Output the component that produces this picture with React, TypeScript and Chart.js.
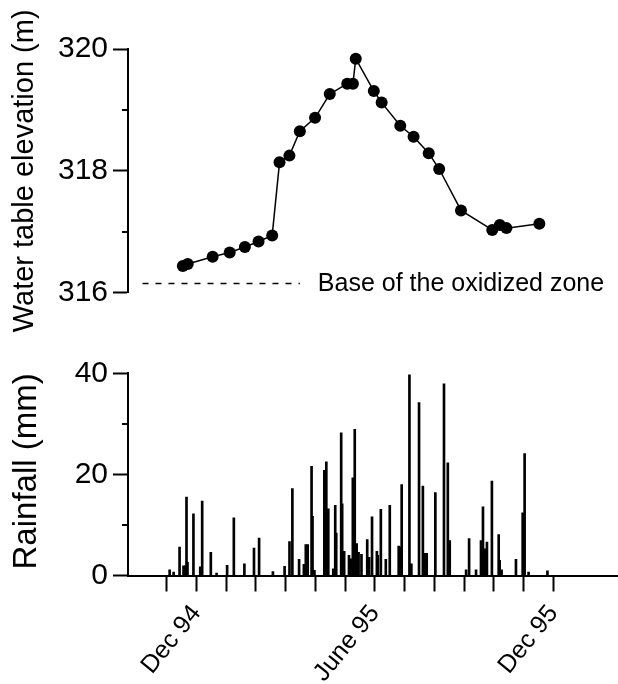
import React, { useEffect, useRef } from 'react';
import { Chart, registerables } from 'chart.js';

Chart.register(...registerables);

const FONT = "'Liberation Sans', Arial, Helvetica, sans-serif";

// ---- Water table elevation (m) ----
const WATER_DATES = [
  '1994-11-18', '1994-11-23', '1994-12-19', '1995-01-06', '1995-01-22', '1995-02-05',
  '1995-02-18', '1995-02-25', '1995-03-07', '1995-03-18', '1995-04-03', '1995-04-18',
  '1995-05-06', '1995-05-12', '1995-05-15', '1995-06-03', '1995-06-11', '1995-06-30',
  '1995-07-14', '1995-07-30', '1995-08-10', '1995-09-02', '1995-10-04', '1995-10-12',
  '1995-10-19', '1995-11-22',
];
const WATER_LEVELS = [
  316.44, 316.47, 316.59, 316.66, 316.75, 316.84,
  316.94, 318.14, 318.25, 318.65, 318.87, 319.26,
  319.43, 319.43, 319.84, 319.31, 319.12, 318.74,
  318.56, 318.29, 318.03, 317.35, 317.03, 317.11,
  317.06, 317.13,
];
const WATER_MAJOR_TICKS = [316, 318, 320];
const WATER_MINOR_TICKS = [317, 319];

// ---- Base of the oxidized zone ----
const BASE_LABEL = 'Base of the oxidized zone';
const BASE_ELEVATION = 316.15;
const BASE_SPAN = ['1994-10-07', '1995-03-18'];

// ---- Rainfall (mm) ----
const RAIN_DATES = [
  '1994-11-04', '1994-11-08', '1994-11-14', '1994-11-18', '1994-11-20', '1994-11-21',
  '1994-11-22', '1994-11-28', '1994-12-05', '1994-12-07', '1994-12-16', '1994-12-22',
  '1995-01-02', '1995-01-09', '1995-01-20', '1995-01-30', '1995-02-04', '1995-02-17',
  '1995-02-28', '1995-03-05', '1995-03-08', '1995-03-15', '1995-03-20', '1995-03-22',
  '1995-03-24', '1995-03-28', '1995-03-29', '1995-03-31', '1995-04-10', '1995-04-12',
  '1995-04-14', '1995-04-19', '1995-04-21', '1995-04-22', '1995-04-27', '1995-04-28',
  '1995-04-30', '1995-05-05', '1995-05-07', '1995-05-09', '1995-05-11', '1995-05-13',
  '1995-05-15', '1995-05-18', '1995-05-24', '1995-05-26', '1995-05-29', '1995-06-03',
  '1995-06-04', '1995-06-07', '1995-06-12', '1995-06-16', '1995-06-25', '1995-06-27',
  '1995-06-28', '1995-07-06', '1995-07-08', '1995-07-16', '1995-07-20', '1995-07-22',
  '1995-07-24', '1995-08-02', '1995-08-11', '1995-08-15', '1995-08-17', '1995-09-03',
  '1995-09-06', '1995-09-13', '1995-09-18', '1995-09-20', '1995-09-22', '1995-09-24',
  '1995-09-29', '1995-10-06', '1995-10-07', '1995-10-09', '1995-10-24', '1995-10-31',
  '1995-11-02', '1995-11-06', '1995-11-25',
];
const RAIN_MM = [
  1.1, 0.7, 5.6, 1.9, 1.9, 15.5,
  2.6, 12.2, 1.7, 14.7, 4.6, 0.5,
  2.0, 11.4, 2.3, 5.4, 7.4, 0.8,
  1.8, 6.7, 17.2, 3.2, 2.2, 6.1,
  6.1, 21.6, 11.7, 1.0, 20.8, 22.5,
  13.2, 1.3, 13.9, 8.4, 28.2, 14.2,
  4.8, 4.0, 3.3, 19.3, 28.9, 6.3,
  4.6, 4.2, 7.1, 3.6, 11.6, 4.8,
  4.0, 13.1, 3.2, 13.9, 5.8, 5.6,
  18.0, 39.7, 2.3, 34.2, 17.7, 4.4,
  4.4, 16.4, 37.9, 22.3, 6.9, 1.1,
  7.3, 1.1, 6.9, 13.6, 5.3, 6.6,
  18.7, 8.1, 3.0, 1.1, 3.2, 12.4,
  24.1, 0.7, 0.9,
];
const RAIN_MAJOR_TICKS = [0, 20, 40];
const RAIN_MINOR_TICKS = [10, 30];

// ---- Time axis (one tick per month, from Nov 94) ----
const MONTH_TICK_LABELS = [
  '', 'Dec 94', '', '', '', '', '', 'June 95', '', '', '', '', '', 'Dec 95',
];
const AXIS_START = '1994-09-22';
const AXIS_END = '1996-02-06';

// months elapsed since 1 Nov 1994 (each month equal width on the axis)
const toMonths = (s: string) => {
  const [y, m, d] = s.split('-').map(Number);
  const dim = new Date(y, m, 0).getDate();
  return (y - 1994) * 12 + (m - 1) - 10 + (d - 1) / dim;
};

const XMIN = toMonths(AXIS_START);
const XMAX = toMonths(AXIS_END);

const majorTickColor = (majors: number[]) => (ctx: any) =>
  ctx.tick && majors.includes(Math.round(ctx.tick.value * 100) / 100) ? '#000' : 'rgba(0,0,0,0)';

const minorTicks = (values: number[], len: number) => ({
  id: 'minorTicks',
  afterDraw(chart: any) {
    const y = chart.scales.y;
    const ctx = chart.ctx;
    const left = chart.chartArea.left;
    ctx.save();
    ctx.strokeStyle = '#000';
    ctx.lineWidth = 2;
    values.forEach((v) => {
      const py = Math.round(y.getPixelForValue(v));
      ctx.beginPath();
      ctx.moveTo(left - len, py);
      ctx.lineTo(left, py);
      ctx.stroke();
    });
    ctx.restore();
  },
});

const baseLabel = {
  id: 'baseLabel',
  afterDraw(chart: any) {
    const { ctx, scales } = chart;
    const x = scales.x.getPixelForValue(toMonths(BASE_SPAN[1])) + 18;
    const y = scales.y.getPixelForValue(BASE_ELEVATION);
    ctx.save();
    ctx.fillStyle = '#000';
    ctx.font = `25px ${FONT}`;
    ctx.textAlign = 'left';
    ctx.textBaseline = 'middle';
    ctx.fillText(BASE_LABEL, x, y + 1);
    ctx.restore();
  },
};

export default function App() {
  const topRef = useRef<HTMLCanvasElement>(null);
  const botRef = useRef<HTMLCanvasElement>(null);

  useEffect(() => {
    document.body.style.margin = '0';
    Chart.defaults.font.family = FONT;

    const top = new Chart(topRef.current as HTMLCanvasElement, {
      type: 'line',
      data: {
        datasets: [
          {
            data: WATER_DATES.map((d, i) => ({ x: toMonths(d), y: WATER_LEVELS[i] })),
            borderColor: '#000',
            borderWidth: 1.5,
            backgroundColor: '#000',
            pointRadius: 6,
            pointBackgroundColor: '#000',
            pointBorderWidth: 0,
            tension: 0,
            clip: false as any,
          },
          {
            data: BASE_SPAN.map((d) => ({ x: toMonths(d), y: BASE_ELEVATION })),
            borderColor: '#000',
            borderWidth: 1.5,
            borderDash: [6, 7],
            pointRadius: 0,
            tension: 0,
            clip: false as any,
          },
        ],
      },
      options: {
        animation: false,
        responsive: false,
        devicePixelRatio: 1,
        layout: { padding: { top: 49, bottom: 360 - 292.7, left: 0, right: 0 } },
        plugins: { legend: { display: false }, tooltip: { enabled: false } },
        scales: {
          x: { type: 'linear', min: XMIN, max: XMAX, display: false },
          y: {
            min: 316,
            max: 320,
            afterFit: (s: any) => { s.width = 128; },
            border: { display: true, color: '#000', width: 2 },
            grid: {
              drawOnChartArea: false,
              tickLength: 15,
              tickWidth: 2,
              tickColor: majorTickColor(WATER_MAJOR_TICKS),
            },
            ticks: {
              stepSize: 1,
              color: '#000',
              padding: 5,
              font: { size: 30, family: FONT },
              callback: (v: any) => (WATER_MAJOR_TICKS.includes(Number(v)) ? String(v) : ''),
            },
            title: {
              display: true,
              text: 'Water table elevation (m)',
              color: '#000',
              font: { size: 29, family: FONT },
              padding: { top: 8, bottom: 0 },
            },
          },
        },
      },
      plugins: [minorTicks(WATER_MINOR_TICKS, 6), baseLabel],
    });

    const bot = new Chart(botRef.current as HTMLCanvasElement, {
      type: 'bar',
      data: {
        datasets: [
          {
            data: RAIN_DATES.map((d, i) => ({ x: toMonths(d), y: RAIN_MM[i] })),
            backgroundColor: '#000',
            borderWidth: 0,
            barThickness: 2,
          },
        ],
      },
      options: {
        animation: false,
        responsive: false,
        devicePixelRatio: 1,
        layout: { padding: { top: 43.3, bottom: 0, left: 0, right: 0 } },
        plugins: { legend: { display: false }, tooltip: { enabled: false } },
        scales: {
          x: {
            type: 'linear',
            min: XMIN,
            max: XMAX,
            offset: false,
            afterBuildTicks: (s: any) => {
              s.ticks = MONTH_TICK_LABELS.map((_, i) => ({ value: i }));
            },
            afterFit: (s: any) => { s.height = 108.5; },
            border: { display: true, color: '#000', width: 2 },
            grid: {
              offset: false,
              drawOnChartArea: false,
              tickLength: 16,
              tickWidth: 2,
              tickColor: '#000',
            },
            ticks: {
              autoSkip: false,
              minRotation: 51,
              maxRotation: 51,
              color: '#000',
              padding: 8,
              font: { size: 25, family: FONT },
              callback: (v: any) => MONTH_TICK_LABELS[Math.round(Number(v))] ?? '',
            },
          },
          y: {
            min: 0,
            max: 40,
            afterFit: (s: any) => { s.width = 128; },
            border: { display: true, color: '#000', width: 2 },
            grid: {
              drawOnChartArea: false,
              tickLength: 15,
              tickWidth: 2,
              tickColor: majorTickColor(RAIN_MAJOR_TICKS),
            },
            ticks: {
              stepSize: 10,
              color: '#000',
              padding: 5,
              font: { size: 30, family: FONT },
              callback: (v: any) => (RAIN_MAJOR_TICKS.includes(Number(v)) ? String(v) : ''),
            },
            title: {
              display: true,
              text: 'Rainfall (mm)',
              color: '#000',
              align: 'end',
              font: { size: 33, family: FONT },
              padding: { top: 7, bottom: 0 },
            },
          },
        },
      },
      plugins: [minorTicks(RAIN_MINOR_TICKS, 6)],
    });

    return () => {
      top.destroy();
      bot.destroy();
    };
  }, []);

  return (
    <div style={{ position: 'relative', width: 618, height: 684, background: '#fff', overflow: 'hidden' }}>
      <canvas ref={topRef} width={618} height={360} style={{ position: 'absolute', left: 0, top: 0 }} />
      <canvas ref={botRef} width={618} height={354} style={{ position: 'absolute', left: 0, top: 330 }} />
    </div>
  );
}
